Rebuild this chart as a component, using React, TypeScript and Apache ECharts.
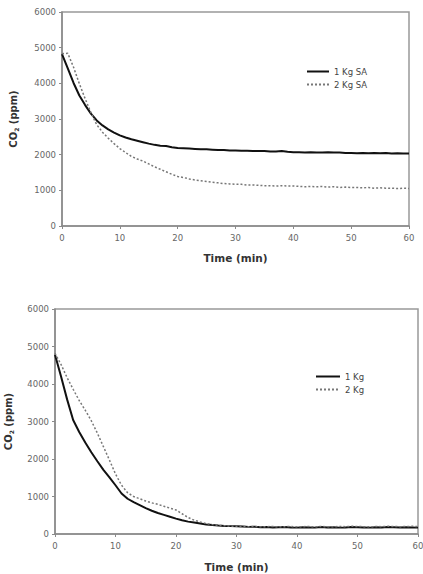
import React, { useEffect, useRef } from "react";
import * as echarts from "echarts";

const times = Array.from({ length: 61 }, (_, i) => i);

const topSeries1Name = "1 Kg SA";
const topSeries2Name = "2 Kg SA";
const botSeries1Name = "1 Kg";
const botSeries2Name = "2 Kg";

const top1Kg = [4820, 4420, 4010, 3660, 3390, 3150, 2960, 2820, 2710, 2620, 2540, 2480, 2430, 2390, 2350, 2310, 2275, 2250, 2240, 2210, 2190, 2180, 2170, 2160, 2150, 2150, 2140, 2130, 2130, 2120, 2120, 2110, 2110, 2100, 2100, 2100, 2090, 2090, 2100, 2080, 2070, 2070, 2060, 2070, 2060, 2060, 2070, 2060, 2060, 2050, 2050, 2040, 2050, 2040, 2050, 2040, 2050, 2030, 2040, 2030, 2030];
const top2Kg = [4830, 4840, 4450, 3990, 3570, 3180, 2840, 2630, 2460, 2310, 2170, 2060, 1950, 1880, 1820, 1740, 1660, 1590, 1520, 1450, 1390, 1360, 1320, 1290, 1270, 1250, 1230, 1210, 1190, 1180, 1170, 1170, 1150, 1150, 1140, 1130, 1130, 1120, 1130, 1120, 1120, 1110, 1100, 1110, 1100, 1110, 1090, 1100, 1080, 1090, 1080, 1080, 1070, 1080, 1060, 1070, 1060, 1060, 1050, 1060, 1050];
const bot1Kg = [4780, 4200, 3590, 3040, 2720, 2440, 2180, 1940, 1710, 1510, 1300, 1080, 940, 850, 770, 690, 620, 560, 510, 460, 410, 365, 330, 305, 280, 255, 240, 225, 215, 210, 205, 200, 190, 195, 180, 185, 175, 180, 185, 175, 170, 180, 175, 170, 185, 175, 180, 170, 175, 185, 180, 175, 170, 180, 175, 185, 180, 175, 180, 175, 170];
const bot2Kg = [4820, 4520, 4170, 3860, 3560, 3300, 3020, 2690, 2330, 1970, 1600, 1300, 1100, 1000, 940, 880, 830, 790, 740, 690, 640, 540, 440, 370, 320, 280, 250, 230, 220, 210, 205, 200, 195, 200, 190, 195, 200, 190, 195, 200, 190, 195, 200, 190, 200, 195, 190, 200, 195, 205, 200, 195, 190, 200, 195, 205, 200, 195, 200, 205, 200];

const xTickValues = [0, 10, 20, 30, 40, 50, 60];
const yTickValues = [0, 1000, 2000, 3000, 4000, 5000, 6000];

const pair = (ys: number[]) => ys.map((y, i) => [times[i], y]);

const FONT = "DejaVu Sans";

export default function App() {
  const ref = useRef<HTMLDivElement>(null);
  useEffect(() => {
    if (!ref.current) return;
    const chart = echarts.init(ref.current, undefined, { renderer: "svg" });
    const xAxisBase = (gridIndex: number, nameGap: number) => ({
      type: "value" as const,
      gridIndex,
      min: xTickValues[0],
      max: xTickValues[xTickValues.length - 1],
      interval: 10,
      name: "Time (min)",
      nameLocation: "middle" as const,
      nameGap,
      nameTextStyle: { fontFamily: FONT, fontWeight: "bold", fontSize: 10.5, color: "#333" },
      axisLine: { show: true, lineStyle: { color: "#8a8a8a", width: 1.5 } },
      axisTick: { show: true, inside: false, length: 3, lineStyle: { color: "#8a8a8a" } },
      axisLabel: { fontFamily: FONT, fontSize: 8.5, color: "#666", margin: 7, formatter: (v: number) => String(v) },
      splitLine: { show: false },
    });
    const yAxisBase = (gridIndex: number, nameGap: number) => ({
      type: "value" as const,
      gridIndex,
      min: yTickValues[0],
      max: yTickValues[yTickValues.length - 1],
      interval: 1000,
      name: "{a|CO}{b|2}{a| (ppm)}",
      nameLocation: "middle" as const,
      nameGap,
      nameRotate: 90,
      nameTextStyle: {
        rich: {
          a: { fontFamily: FONT, fontWeight: "bold", fontSize: 10, color: "#333", lineHeight: 12 },
          b: { fontFamily: FONT, fontWeight: "bold", fontSize: 6, color: "#333", verticalAlign: "bottom", lineHeight: 9 },
        },
      },
      axisLine: { show: true, lineStyle: { color: "#8a8a8a", width: 1.5 } },
      axisTick: { show: true, inside: false, length: 3, lineStyle: { color: "#8a8a8a" } },
      axisLabel: { fontFamily: FONT, fontSize: 8.5, color: "#666", margin: 6, formatter: (v: number) => String(v) },
      splitLine: { show: false },
    });
    const solid = { color: "#111", width: 2, type: "solid" as const };
    const dotted = { color: "#777", width: 1.5, type: [2, 2] as any };
    const legendCommon = {
      orient: "vertical" as const,
      padding: 0,
      itemHeight: 8,
      itemGap: 4,
      itemStyle: { opacity: 0, borderWidth: 0 },
      textStyle: { fontFamily: FONT, fontSize: 8.5, color: "#444" },
    };
    chart.setOption({
      animation: false,
      backgroundColor: "#fff",
      grid: [
        { left: 62, right: 14, top: 12, height: 214, show: true, borderColor: "#999", borderWidth: 1.5, backgroundColor: "transparent", containLabel: false, outerBoundsMode: "none" },
        { left: 55, right: 5, top: 309, height: 225, show: true, borderColor: "#999", borderWidth: 1.5, backgroundColor: "transparent", containLabel: false, outerBoundsMode: "none" },
      ],
      xAxis: [xAxisBase(0, 26), xAxisBase(1, 27)],
      yAxis: [yAxisBase(0, 43), yAxisBase(1, 41)],
      legend: [
        { ...legendCommon, left: 306, top: 67, itemWidth: 22, data: [topSeries1Name, topSeries2Name] },
        { ...legendCommon, left: 315, top: 372, itemWidth: 24, data: [botSeries1Name, botSeries2Name] },
      ],
      series: [
        { name: topSeries1Name, type: "line", xAxisIndex: 0, yAxisIndex: 0, data: pair(top1Kg), showSymbol: false, symbol: "none", lineStyle: solid, itemStyle: { color: "#111" } },
        { name: topSeries2Name, type: "line", xAxisIndex: 0, yAxisIndex: 0, data: pair(top2Kg), showSymbol: false, symbol: "none", lineStyle: dotted, itemStyle: { color: "#777" } },
        { name: botSeries1Name, type: "line", xAxisIndex: 1, yAxisIndex: 1, data: pair(bot1Kg), showSymbol: false, symbol: "none", lineStyle: solid, itemStyle: { color: "#111" } },
        { name: botSeries2Name, type: "line", xAxisIndex: 1, yAxisIndex: 1, data: pair(bot2Kg), showSymbol: false, symbol: "none", lineStyle: dotted, itemStyle: { color: "#777" } },
      ],
    });
    return () => chart.dispose();
  }, []);
  return (
    <div
      ref={ref}
      style={{ position: "fixed", left: 0, top: 0, width: 423, height: 574, background: "#fff" }}
    />
  );
}
